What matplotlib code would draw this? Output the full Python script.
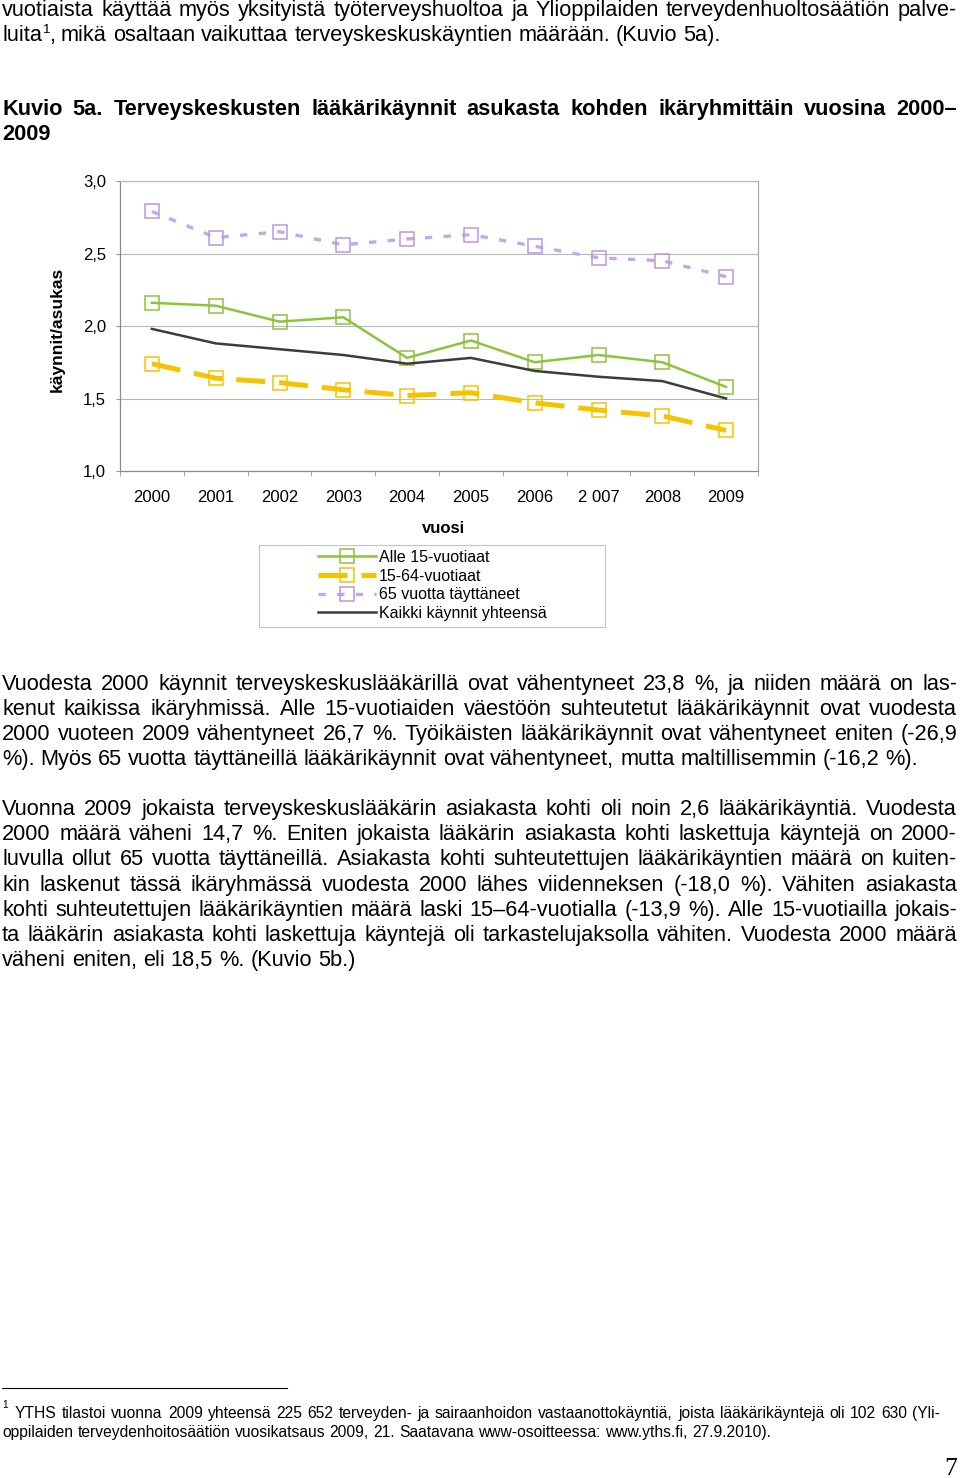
import numpy as np
import matplotlib
matplotlib.use('Agg')
import matplotlib.pyplot as plt
from matplotlib.lines import Line2D
from matplotlib.patches import Rectangle

plt.rcParams['font.family'] = ['Liberation Sans', 'DejaVu Sans']

# chart data
years = ['2000', '2001', '2002', '2003', '2004', '2005', '2006', '2 007', '2008', '2009']
alle15 = [2.16, 2.14, 2.03, 2.06, 1.78, 1.90, 1.75, 1.80, 1.75, 1.58]
tyoik = [1.74, 1.64, 1.61, 1.56, 1.52, 1.54, 1.47, 1.42, 1.38, 1.28]
yli65 = [2.79, 2.61, 2.65, 2.56, 2.60, 2.63, 2.55, 2.47, 2.45, 2.34]
kaikki = [1.98, 1.88, 1.84, 1.80, 1.74, 1.78, 1.69, 1.65, 1.62, 1.50]
series_names = ['Alle 15-vuotiaat', '15-64-vuotiaat', '65 vuotta täyttäneet', 'Kaikki käynnit yhteensä']
yticks = [1.0, 1.5, 2.0, 2.5, 3.0]
ytick_labels = ['1,0', '1,5', '2,0', '2,5', '3,0']

# page text
top_line = 'vuotiaista käyttää myös yksityistä työterveyshuoltoa ja Ylioppilaiden terveydenhuoltosäätiön palve-'
heading = ['Kuvio 5a. Terveyskeskusten lääkärikäynnit asukasta kohden ikäryhmittäin vuosina 2000–', '2009']
para1 = ['Vuodesta 2000 käynnit terveyskeskuslääkärillä ovat vähentyneet 23,8 %, ja niiden määrä on las-',
         'kenut kaikissa ikäryhmissä. Alle 15-vuotiaiden väestöön suhteutetut lääkärikäynnit ovat vuodesta',
         '2000 vuoteen 2009 vähentyneet 26,7 %. Työikäisten lääkärikäynnit ovat vähentyneet eniten (-26,9',
         '%). Myös 65 vuotta täyttäneillä lääkärikäynnit ovat vähentyneet, mutta maltillisemmin (-16,2 %).']
para2 = ['Vuonna 2009 jokaista terveyskeskuslääkärin asiakasta kohti oli noin 2,6 lääkärikäyntiä. Vuodesta',
         '2000 määrä väheni 14,7 %. Eniten jokaista lääkärin asiakasta kohti laskettuja käyntejä on 2000-',
         'luvulla ollut 65 vuotta täyttäneillä. Asiakasta kohti suhteutettujen lääkärikäyntien määrä on kuiten-',
         'kin laskenut tässä ikäryhmässä vuodesta 2000 lähes viidenneksen (-18,0 %). Vähiten asiakasta',
         'kohti suhteutettujen lääkärikäyntien määrä laski 15–64-vuotialla (-13,9 %). Alle 15-vuotiailla jokais-',
         'ta lääkärin asiakasta kohti laskettuja käyntejä oli tarkastelujaksolla vähiten. Vuodesta 2000 määrä',
         'väheni eniten, eli 18,5 %. (Kuvio 5b.)']
foot = ['YTHS tilastoi vuonna 2009 yhteensä 225 652 terveyden- ja sairaanhoidon vastaanottokäyntiä, joista lääkärikäyntejä oli 102 630 (Yli-',
        'oppilaiden terveydenhoitosäätiön vuosikatsaus 2009, 21. Saatavana www-osoitteessa: www.yths.fi, 27.9.2010).']

W, H = 960, 1478
fig = plt.figure(figsize=(W / 100, H / 100), dpi=100)
rend = fig.canvas.get_renderer()


def fx(x):
    return x / W


def fy(y):
    return 1 - y / H


def width_px(s, **kw):
    t = fig.text(0, 0, s, **kw)
    w = t.get_window_extent(rend).width
    t.remove()
    return w


def fit_size(s, target, **kw):
    return 10 * target / width_px(s, fontsize=10, **kw)


def put_line(s, y, x0=2, x1=957, justify=True, **kw):
    words = s.split(' ')
    ws = [width_px(w, **kw) for w in words]
    if justify and len(words) > 1:
        gap = (x1 - x0 - sum(ws)) / (len(words) - 1)
    else:
        gap = width_px('a a', **kw) - width_px('aa', **kw)
    x = x0
    for w, wd in zip(words, ws):
        fig.text(fx(x), fy(y), w, ha='left', va='baseline', **kw)
        x += wd + gap
    return x - gap


body = fit_size(para2[-1], 355)
put_line(top_line, 16, fontsize=body)
x = put_line('luita', 41, justify=False, fontsize=body)
fig.text(fx(x), fy(33), '1', fontsize=body * 0.62, ha='left', va='baseline')
put_line(', mikä osaltaan vaikuttaa terveyskeskuskäyntien määrään. (Kuvio 5a).', 41,
         x0=x + 7, justify=False, fontsize=body)

put_line(heading[0], 115, fontsize=body, fontweight='bold')
put_line(heading[1], 140, justify=False, fontsize=body, fontweight='bold')

for i, s in enumerate(para1):
    put_line(s, 690 + 25 * i, justify=i < len(para1) - 1, fontsize=body)
for i, s in enumerate(para2):
    put_line(s, 815 + 25.2 * i, justify=i < len(para2) - 1, fontsize=body)

# footnote
fs_foot = (fit_size(foot[1], 781) + fit_size(foot[0], 900)) / 2
fig.add_artist(Line2D([fx(2), fx(287)], [fy(1388), fy(1388)], color='black', lw=0.8))
fig.text(fx(2), fy(1408), '1', fontsize=fs_foot * 0.65, ha='left', va='baseline')
put_line(foot[0], 1418, x0=15, x1=940, fontsize=fs_foot)
put_line(foot[1], 1437, justify=False, fontsize=fs_foot)
fig.text(fx(957), fy(1475), '7', fontsize=18.5, family='Liberation Serif', ha='right', va='baseline')

# chart
green = '#8cc43c'
yellow = '#f5c400'
lilac = '#c4a8e8'
dark = '#3c3c3c'

ax = fig.add_axes([fx(120), fy(471), (758 - 120) / W, (471 - 181) / H])
xs = np.arange(len(years))
ax.plot(xs, alle15, color=green, lw=1.8, marker='s', ms=9.5, mfc='none', mec=green, mew=1.1,
        label=series_names[0])
ax.plot(xs, tyoik, color=yellow, lw=3.6, dashes=(5.8, 2.8), marker='s', ms=9.5, mfc='none',
        mec=yellow, mew=1.1, label=series_names[1])
ax.plot(xs, yli65, color=lilac, lw=2.4, dashes=(2.2, 3.4), marker='s', ms=9.5, mfc='none',
        mec='#b898e0', mew=1.1, label=series_names[2])
ax.plot(xs, kaikki, color=dark, lw=1.8, label=series_names[3])

ax.set_xlim(-0.5, len(years) - 0.5)
ax.set_ylim(1.0, 3.0)
ax.set_yticks(yticks)
ax.set_yticklabels(ytick_labels)
ax.set_xticks(xs)
ax.set_xticklabels(years)
ax.set_xticks(np.arange(-0.5, len(years), 1), minor=True)
ax.tick_params(axis='x', which='major', length=0, pad=14, labelsize=12)
ax.tick_params(axis='x', which='minor', length=3.6, color='#999999', direction='out')
ax.tick_params(axis='y', length=3, color='#999999', pad=7, labelsize=12)
ax.grid(axis='y', color='#b8b8b8', lw=0.8)
ax.set_axisbelow(True)
for side, c in [('left', '#8a8a8a'), ('bottom', '#8a8a8a'), ('right', '#a8a8a8'), ('top', '#b8b8b8')]:
    ax.spines[side].set_color(c)
    ax.spines[side].set_linewidth(0.9)

fig.text(fx(57), fy(329), 'käynnit/asukas', rotation=90, ha='center', va='center',
         fontsize=12.5, fontweight='bold')
fig.text(fx(443), fy(533), 'vuosi', ha='center', va='baseline', fontsize=12, fontweight='bold')

ax.legend(loc='upper left', bbox_to_anchor=(fx(318), fy(550)), bbox_transform=fig.transFigure,
          frameon=False, borderpad=0, borderaxespad=0, handlelength=3.6, handletextpad=0.2,
          labelspacing=0.23, fontsize=11.5)
fig.add_artist(Rectangle((fx(259), fy(627)), (605 - 259) / W, (627 - 545) / H,
                         transform=fig.transFigure, fill=False, ec='#c4c4c4', lw=0.8))

fig.savefig('out.png', dpi=100)
